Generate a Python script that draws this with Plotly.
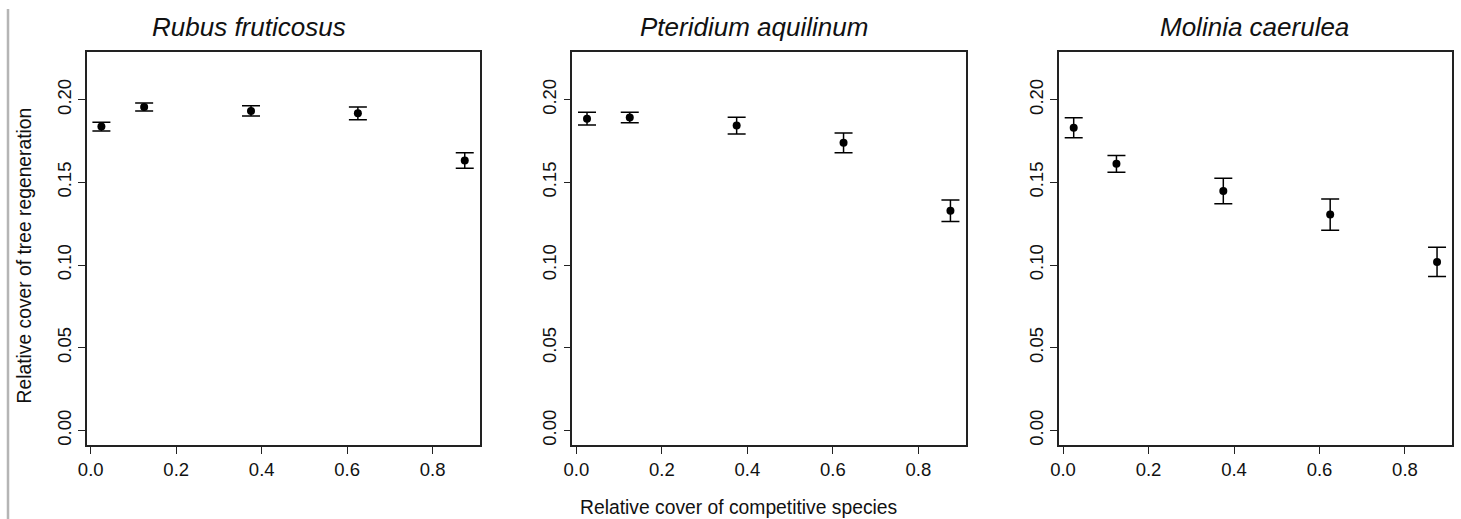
import plotly.graph_objects as go

# Midpoints of the cover classes of the competing species
cover_class = [0.025, 0.125, 0.375, 0.625, 0.875]

species = ["Rubus fruticosus", "Pteridium aquilinum", "Molinia caerulea"]

# Mean relative cover of tree regeneration per class, with standard errors
rubus_mean = [0.1837, 0.1955, 0.1932, 0.1917, 0.1632]
rubus_se = [0.0027, 0.0024, 0.0031, 0.0038, 0.0047]

pteridium_mean = [0.1885, 0.1892, 0.1843, 0.1739, 0.1328]
pteridium_se = [0.0038, 0.0031, 0.0050, 0.0060, 0.0065]

molinia_mean = [0.1830, 0.1612, 0.1447, 0.1305, 0.1019]
molinia_se = [0.0061, 0.0051, 0.0077, 0.0095, 0.0089]

y_ticks = [0.00, 0.05, 0.10, 0.15, 0.20]
y_ticktext = ["0.00", "0.05", "0.10", "0.15", "0.20"]
x_ticks = [0.0, 0.2, 0.4, 0.6, 0.8]
x_ticktext = ["0.0", "0.2", "0.4", "0.6", "0.8"]

W, H = 1461, 519
FONT = "Liberation Sans, Arial, sans-serif"

panels = [
    (rubus_mean, rubus_se, (86.7, 480.0), 248.5),
    (pteridium_mean, pteridium_se, (572.3, 965.7), 754),
    (molinia_mean, molinia_se, (1059.0, 1452.3), 1254),
]

fig = go.Figure()
layout = dict(
    width=W, height=H,
    margin=dict(l=0, r=0, t=0, b=0, pad=0),
    paper_bgcolor="white", plot_bgcolor="white",
    showlegend=False,
    font=dict(family=FONT, color="#111111"),
    annotations=[], shapes=[],
)

y_dom = [1 - 445 / H, 1 - 52 / H]

for i, (mean, se, (x0, x1), title_x) in enumerate(panels):
    n = "" if i == 0 else str(i + 1)
    fig.add_trace(go.Scatter(
        x=cover_class, y=mean,
        mode="markers",
        marker=dict(color="black", size=8),
        error_y=dict(type="data", array=se, visible=True,
                     color="black", thickness=1.5, width=9),
        xaxis="x" + n, yaxis="y" + n,
        cliponaxis=False,
    ))
    axis_common = dict(
        showgrid=False, zeroline=False, automargin=False,
        showline=True, mirror=True, linecolor="#222222", linewidth=1.5,
        ticks="outside", ticklen=7, tickwidth=1.2, tickcolor="#222222",
        tickfont=dict(family=FONT, size=18.5, color="#111111"),
    )
    layout["xaxis" + n] = dict(
        axis_common,
        domain=[x0 / W, x1 / W],
        range=[-0.0094, 0.9107],
        tickvals=x_ticks, ticktext=x_ticktext,
        anchor="y" + n,
    )
    layout["yaxis" + n] = dict(
        axis_common,
        domain=y_dom,
        range=[-0.0088, 0.2288],
        tickvals=y_ticks, ticktext=y_ticktext,
        tickangle=-90,
        anchor="x" + n,
    )
    layout["annotations"].append(dict(
        text=species[i], xref="paper", yref="paper",
        x=title_x / W, y=1 - 27 / H, showarrow=False,
        xanchor="center", yanchor="middle",
        font=dict(family=FONT, size=26, color="#111111", style="italic"),
    ))

layout["annotations"].append(dict(
    text="Relative cover of tree regeneration", xref="paper", yref="paper",
    x=23.5 / W, y=1 - 256 / H, showarrow=False, textangle=-90,
    xanchor="center", yanchor="middle",
    font=dict(family=FONT, size=19.3, color="#111111"),
))
layout["annotations"].append(dict(
    text="Relative cover of competitive species", xref="paper", yref="paper",
    x=738 / W, y=1 - 507 / H, showarrow=False,
    xanchor="center", yanchor="middle",
    font=dict(family=FONT, size=19.3, color="#111111"),
))

# Thin grey rule at the left edge of the figure
layout["shapes"].append(dict(
    type="line", xref="paper", yref="paper",
    x0=8 / W, x1=8 / W, y0=0, y1=1 - 9 / H,
    line=dict(color="#b5b5b5", width=2.5),
))

fig.update_layout(**layout)
fig.write_html("out.html")
